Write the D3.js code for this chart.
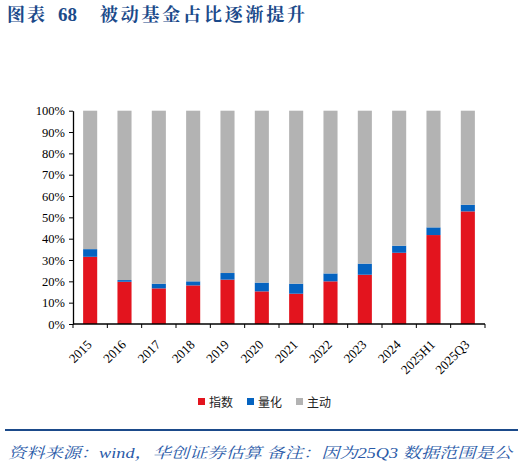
<!DOCTYPE html>
<html>
<head>
<meta charset="utf-8">
<script src="https://cdn.jsdelivr.net/npm/d3@7"></script>
<style>
  body { margin: 0; background: #fff; }
  svg { display: block; }
</style>
</head>
<body>
<svg id="chart" width="524" height="467"></svg>
<script>
const categories = ["2015", "2016", "2017", "2018", "2019", "2020", "2021", "2022", "2023", "2024", "2025H1", "2025Q3"];
const indexShare = [31.5, 19.8, 16.7, 18.1, 20.8, 15.3, 14.2, 20.0, 23.1, 33.4, 41.7, 52.8];
const quantShare = [3.6, 0.8, 2.2, 1.9, 3.1, 4.1, 4.7, 3.7, 5.2, 3.3, 3.6, 3.1];
const activeShare = indexShare.map((v, i) => 100 - v - quantShare[i]);
const seriesNames = ["指数", "量化", "主动"];
const colors = ["#E3141E", "#0563C0", "#B3B3B3"];
const yTicks = [0, 10, 20, 30, 40, 50, 60, 70, 80, 90, 100];

const svg = d3.select("#chart");
const margin = {top: 110.7, right: 39, bottom: 143, left: 73};
const W = 524, H = 467;

const rows = categories.map((c, i) => ({cat: c, "指数": indexShare[i], "量化": quantShare[i], "主动": activeShare[i]}));
const stacked = d3.stack().keys(seriesNames)(rows);

const x = d3.scaleBand()
    .domain(categories)
    .range([margin.left, W - margin.right])
    .paddingInner(0.59)
    .paddingOuter(0.295);

const y = d3.scaleLinear()
    .domain([0, 100])
    .range([H - margin.bottom, margin.top]);

// title
const titleFont = "'Noto Serif CJK SC', 'Noto Sans CJK SC', serif";
const title = svg.append("g")
    .attr("fill", "#1B4A8A")
    .attr("font-weight", "bold");
title.append("text")
    .attr("x", 7).attr("y", 21)
    .attr("font-family", titleFont)
    .attr("font-size", 18)
    .attr("letter-spacing", 2)
    .text("图表");
title.append("text")
    .attr("x", 58).attr("y", 21)
    .attr("font-family", "'Liberation Serif', serif")
    .attr("font-size", 19)
    .text("68");
title.append("text")
    .attr("x", 100).attr("y", 21)
    .attr("font-family", titleFont)
    .attr("font-size", 18)
    .attr("textLength", 205)
    .attr("lengthAdjust", "spacing")
    .text("被动基金占比逐渐提升");

// bars
svg.append("g")
  .selectAll("g")
  .data(stacked)
  .join("g")
    .attr("fill", (d, i) => colors[i])
  .selectAll("rect")
  .data(d => d)
  .join("rect")
    .attr("x", d => x(d.data.cat))
    .attr("width", x.bandwidth())
    .attr("y", d => y(d[1]))
    .attr("height", d => y(d[0]) - y(d[1]));

// y axis
const yAxis = svg.append("g")
    .attr("transform", `translate(${margin.left},0)`)
    .call(d3.axisLeft(y).tickValues(yTicks).tickFormat(d => d + "%").tickSize(4).tickSizeOuter(0));
yAxis.select(".domain").attr("stroke", "#000").attr("stroke-width", 1.3);
yAxis.selectAll("text")
    .attr("font-family", "'Liberation Serif', 'Times New Roman', serif")
    .attr("font-size", 12.5)
    .attr("fill", "#000")
    .attr("dx", "-1");

// x axis, ticks at band boundaries
const xAxisG = svg.append("g")
    .attr("transform", `translate(0,${H - margin.bottom})`);
xAxisG.append("line")
    .attr("x1", margin.left).attr("x2", W - margin.right)
    .attr("stroke", "#000").attr("stroke-width", 1.3);
const stepW = (W - margin.left - margin.right) / categories.length;
xAxisG.selectAll("line.tk")
  .data(d3.range(categories.length + 1))
  .join("line")
    .attr("class", "tk")
    .attr("x1", i => margin.left + i * stepW)
    .attr("x2", i => margin.left + i * stepW)
    .attr("y1", 0).attr("y2", 4)
    .attr("stroke", "#000");
xAxisG.selectAll("text")
  .data(categories)
  .join("text")
    .attr("transform", d => `translate(${x(d) + x.bandwidth() / 2 - 4},15) rotate(-45)`)
    .attr("text-anchor", "end")
    .attr("dy", "0.7em")
    .attr("font-family", "'Liberation Serif', 'Times New Roman', serif")
    .attr("font-size", 13)
    .attr("fill", "#000")
    .text(d => d);

// legend
const legendX = [198, 247, 296];
const legend = svg.append("g");
seriesNames.forEach((name, i) => {
  legend.append("rect")
    .attr("x", legendX[i]).attr("y", 398)
    .attr("width", 7).attr("height", 7)
    .attr("fill", colors[i]);
  legend.append("text")
    .attr("x", legendX[i] + 11).attr("y", 406.5)
    .attr("font-family", "'Noto Sans CJK SC', sans-serif")
    .attr("font-size", 12)
    .attr("fill", "#222")
    .text(name);
});

// footer
svg.append("line")
    .attr("x1", 5).attr("x2", 518)
    .attr("y1", 430).attr("y2", 430)
    .attr("stroke", "#1B4A8A").attr("stroke-width", 2);
svg.append("text")
    .attr("x", 8).attr("y", 458)
    .attr("fill", "#2A5AA8")
    .attr("font-family", "'Liberation Serif', 'Noto Serif CJK SC', serif")
    .attr("font-style", "italic")
    .attr("font-size", 15)
    .attr("textLength", 504)
    .attr("lengthAdjust", "spacingAndGlyphs")
    .text("资料来源：wind，华创证券估算 备注：因为25Q3 数据范围是公");
</script>
</body>
</html>
